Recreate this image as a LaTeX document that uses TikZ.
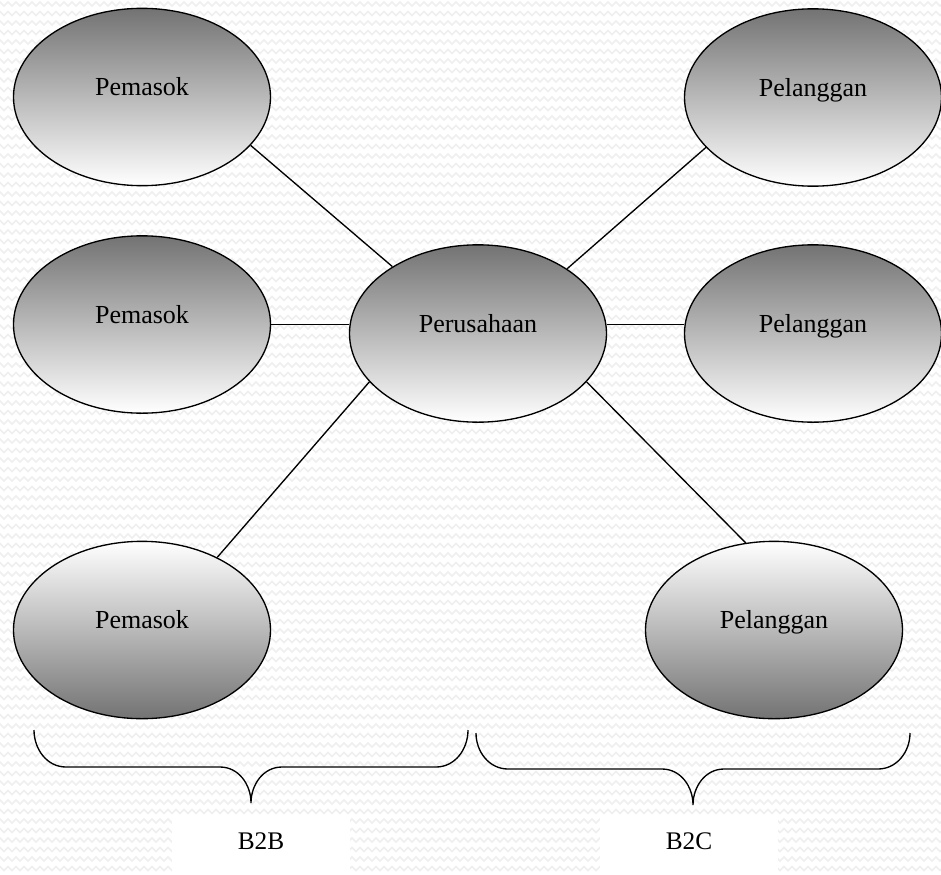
\documentclass[tikz,border=0pt]{standalone}
\usepackage{fontspec}
\setmainfont{Liberation Serif}
\usetikzlibrary{shapes.geometric,decorations.pathmorphing}
\definecolor{shadegray}{RGB}{115,115,115}
\definecolor{wavegray}{RGB}{239,239,239}
\begin{document}
\begin{tikzpicture}[x=0.75pt,y=-0.75pt,
  bub/.style={ellipse, draw=black, line width=1pt, minimum width=192.75pt,
    minimum height=133pt, inner sep=0pt, text height=12pt, text depth=14.25pt,
    font=\fontsize{19.5}{23}\selectfont},
  darktop/.style={bub, top color=shadegray, bottom color=white},
  darkbot/.style={bub, top color=white, bottom color=shadegray},
  link/.style={draw=black, line width=1pt},
  bracepath/.style={draw=black, line width=1pt},
  tag/.style={fill=white, minimum width=133.5pt, minimum height=42.75pt,
    inner sep=0pt, text height=13pt, text depth=7.75pt,
    font=\fontsize{19}{23}\selectfont},
  bgwave/.style={draw=wavegray, line width=1.2pt,
    decorate, decoration={zigzag, segment length=6pt, amplitude=1.5pt}}]
\useasboundingbox (0,0) rectangle (941,874);
\begin{scope}
  \clip (0,0) rectangle (941,874);
  \fill[white] (0,0) rectangle (941,874);
  \foreach \r in {0,...,92} {
    \draw[bgwave] (-10,{\r*9.5+4}) -- (960,{\r*9.5+4});
  }
\end{scope}

% ellipses
\node[darktop] (pemA) at (142,97)    {Pemasok};
\node[darktop] (pemB) at (142,324.5) {Pemasok};
\node[darkbot] (pemC) at (142,630)   {Pemasok};
\node[darktop] (per)  at (478,333.5) {Perusahaan};
\node[darktop] (pelA) at (813,97.5)  {Pelanggan};
\node[darktop] (pelB) at (813,333.5) {Pelanggan};
\node[darkbot] (pelC) at (774,630)   {Pelanggan};

% connectors
\draw[link] (pemA.-24)   -- (per.142.4);
\draw[link] (pemB.east)  -- (pemB.east -| per.west);
\draw[link] (pemC.44.6)  -- (per.204.6);
\draw[link] (per.36.7)   -- (pelA.205.3);
\draw[link] (pemB.east -| per.east) -- (pemB.east -| pelB.west);
\draw[link] (per.-24.6)  -- (pelC.108.4);

% braces
\coordinate (bL1) at (34,730);
\coordinate (bL2) at (468,730);
\coordinate (bLt) at (251,803);
\coordinate (bR1) at (476,733);
\coordinate (bR2) at (910,733);
\coordinate (bRt) at (693,805);
\draw[bracepath] (bL1) to[out=-90,in=180] (66,767) -- (220,767)
  to[out=0,in=90] (bLt) to[out=90,in=180] (282,767) -- (436,767)
  to[out=0,in=-90] (bL2);
\draw[bracepath] (bR1) to[out=-90,in=180] (508,769) -- (662,769)
  to[out=0,in=90] (bRt) to[out=90,in=180] (724,769) -- (878,769)
  to[out=0,in=-90] (bR2);

% labels
\node[tag] (b2b) at (261,845.5) {B2B};
\node[tag] (b2c) at (689,845.5) {B2C};
\end{tikzpicture}
\end{document}
